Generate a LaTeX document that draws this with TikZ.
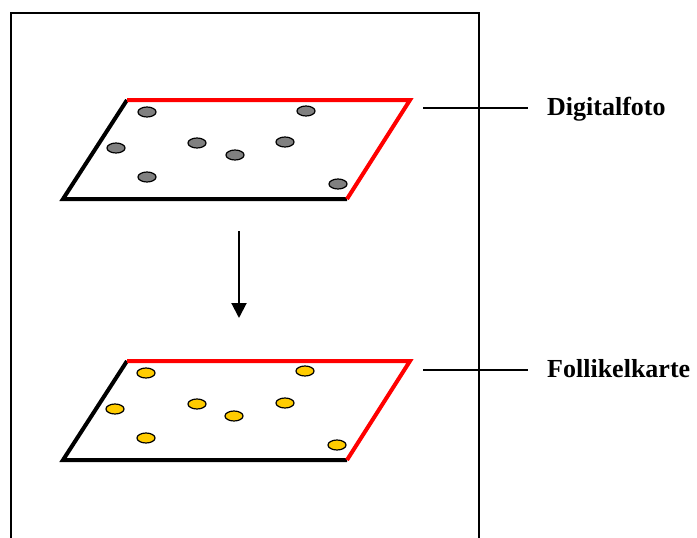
\documentclass[tikz,border=0pt]{standalone}
\usepackage{fontspec}
\setmainfont{Liberation Serif}
\usetikzlibrary{arrows.meta,shapes.geometric}
\definecolor{spotgray}{RGB}{128,128,128}
\definecolor{spotyellow}{RGB}{255,204,0}
\definecolor{edgered}{RGB}{255,0,0}
\tikzset{
  frameline/.style={line width=2pt},
  blackedge/.style={line width=4pt,black,line join=miter},
  rededge/.style={line width=4pt,edgered,line join=miter},
  spot/.style={ellipse,draw=black,line width=1.2pt,minimum width=18pt,minimum height=10pt,inner sep=0pt},
  grayspot/.style={spot,fill=spotgray},
  yellowspot/.style={spot,fill=spotyellow},
  leader/.style={line width=1.2pt},
  caption/.style={anchor=base west,inner sep=0pt,font=\fontsize{26}{30}\selectfont\bfseries},
}
\begin{document}
\begin{tikzpicture}[x=1pt,y=-1pt]
  \useasboundingbox (0,0) rectangle (697,538);
  % open frame running off the bottom
  \draw[frameline] (11,538) -- (11,13) -- (479,13) -- (479,538);

  % upper plane (digital photo)
  \coordinate (p1tl) at (127,100);
  \coordinate (p1tr) at (410,100);
  \coordinate (p1br) at (347,199);
  \coordinate (p1bl) at (63,199);
  \draw[blackedge] (p1tl) -- (p1bl) -- (p1br);
  \draw[rededge] (p1tl) -- (p1tr) -- (p1br);
  \node[grayspot] (g1) at (147,112) {};
  \node[grayspot] (g2) at (306,111) {};
  \node[grayspot] (g3) at (116,148) {};
  \node[grayspot] (g4) at (197,143) {};
  \node[grayspot] (g5) at (235,155) {};
  \node[grayspot] (g6) at (285,142) {};
  \node[grayspot] (g7) at (147,177) {};
  \node[grayspot] (g8) at (338,184) {};

  % lower plane (follicle map)
  \coordinate (p2tl) at (127,361);
  \coordinate (p2tr) at (410,361);
  \coordinate (p2br) at (347,460);
  \coordinate (p2bl) at (63,460);
  \draw[blackedge] (p2tl) -- (p2bl) -- (p2br);
  \draw[rededge] (p2tl) -- (p2tr) -- (p2br);
  \node[yellowspot] (y1) at (146,373) {};
  \node[yellowspot] (y2) at (305,371) {};
  \node[yellowspot] (y3) at (115,409) {};
  \node[yellowspot] (y4) at (197,404) {};
  \node[yellowspot] (y5) at (234,416) {};
  \node[yellowspot] (y6) at (285,403) {};
  \node[yellowspot] (y7) at (146,438) {};
  \node[yellowspot] (y8) at (337,445) {};

  % transition arrow
  \coordinate (arrtop) at (239,231);
  \coordinate (arrtip) at (239,318);
  \draw[line width=2pt,-{Triangle[length=15pt,width=15pt]}] (arrtop) -- (arrtip);

  % labels with leader lines
  \node[caption] (lab1) at (547,115) {Digitalfoto};
  \coordinate (l1a) at (423,108);
  \coordinate (l1b) at (528,108);
  \draw[leader] (l1a) -- (l1b);

  \node[caption] (lab2) at (547,377) {Follikelkarte};
  \coordinate (l2a) at (423,370);
  \coordinate (l2b) at (528,370);
  \draw[leader] (l2a) -- (l2b);
\end{tikzpicture}
\end{document}
